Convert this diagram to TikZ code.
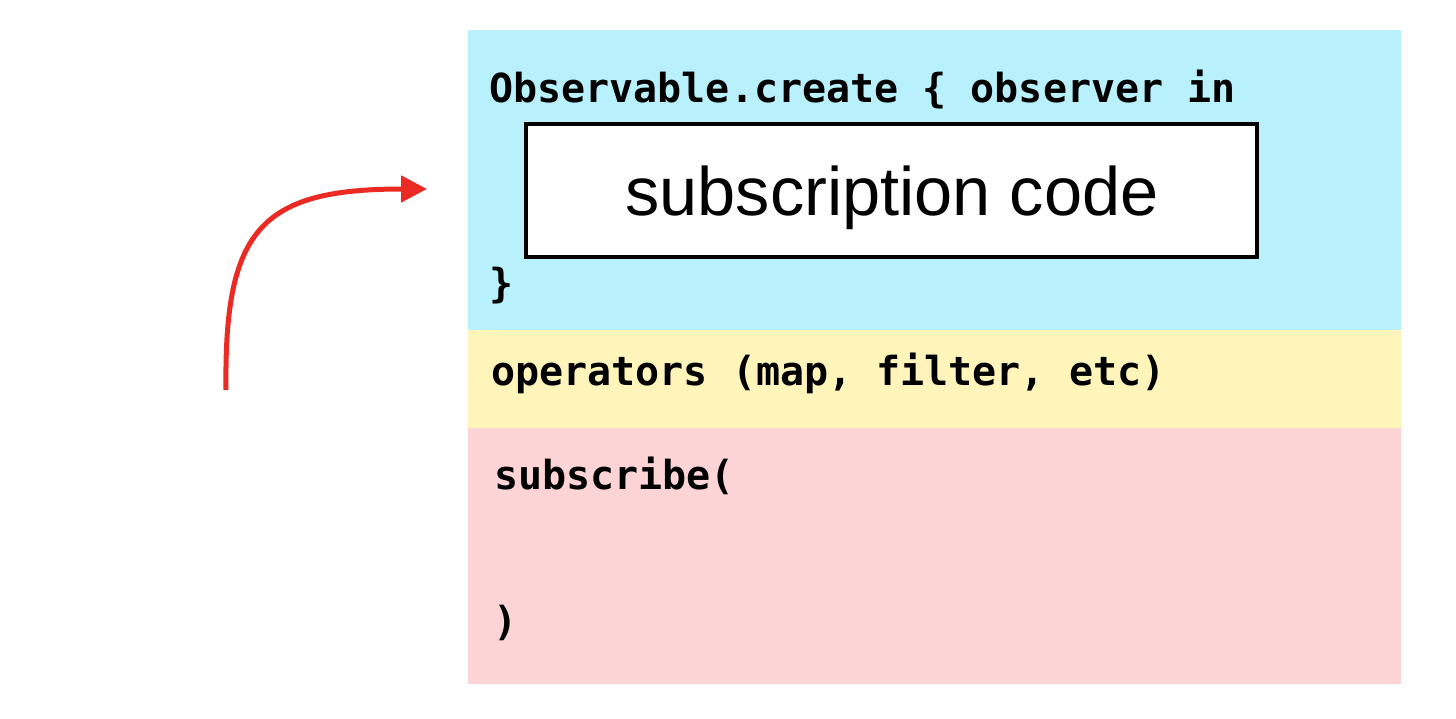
\documentclass[tikz,border=0pt]{standalone}
\usepackage{fontspec}
\setmonofont{DejaVu Sans Mono}
\setsansfont{Liberation Sans}
\usetikzlibrary{arrows.meta}
\definecolor{blueband}{HTML}{B8F1FC}
\definecolor{yellowband}{HTML}{FFF4BA}
\definecolor{pinkband}{HTML}{FCD4D6}
\definecolor{arrowred}{HTML}{EB2A23}
\tikzset{
  code/.style={anchor=base west, inner sep=0pt, font=\fontsize{40}{48}\selectfont\ttfamily\bfseries},
}
\begin{document}
\begin{tikzpicture}[x=1pt,y=-1pt]
\useasboundingbox (0,0) rectangle (1456,718);
\fill[white] (0,0) rectangle (1456,718);
% bands
\fill[blueband] (468,30) rectangle (1401,330);
\fill[yellowband] (468,330) rectangle (1401,428);
\fill[pinkband] (468,428) rectangle (1401,684);
% inner box
\node[draw=black, line width=4pt, fill=white, minimum width=731pt, minimum height=133pt, inner sep=0pt] (sub) at (891.5,190.5) {};
\node[anchor=base, inner sep=0pt, font=\fontsize{68.5}{80}\selectfont\sffamily] (subtxt) at (892,215) {subscription code};
% code texts
\node[code] (create) at (489,102) {Observable.create \{ observer in};
\node[code] (close) at (489,297) {\}};
\node[code] (ops) at (491,385) {operators (map, filter, etc)};
\node[code] (subs) at (494,489) {subscribe(};
\node[code] (paren) at (493,635) {)};
% arrow
\coordinate (astart) at (226,390);
\coordinate (aend) at (427,189);
\draw[arrowred, line width=5pt, -{Triangle[length=26pt,width=26pt]}]
  (astart) .. controls (224,230) and (260,189) .. (aend);
\end{tikzpicture}
\end{document}
